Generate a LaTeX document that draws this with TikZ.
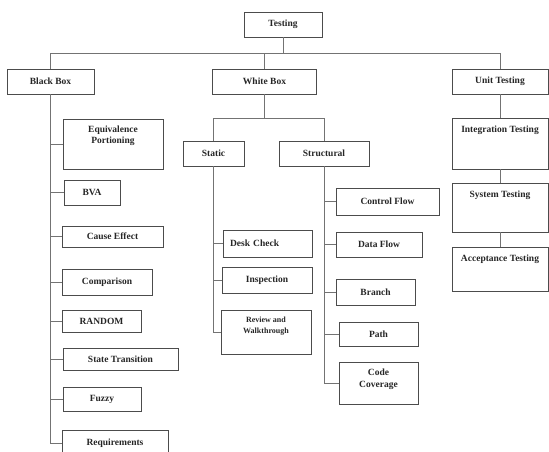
\documentclass[tikz,border=0pt]{standalone}
\usepackage{fontspec}
\setmainfont{Liberation Serif}
\begin{document}
\begin{tikzpicture}[x=1pt,y=-1pt,
  box/.style={draw=black!70, line width=0.7pt, rectangle, inner sep=1pt,
    font=\fontsize{9.5}{11}\selectfont\bfseries, text=black!85},
  txt/.style={inner sep=0pt, align=center, font=\fontsize{9.5}{11}\selectfont\bfseries, text=black!85},
  link/.style={draw=black!55, line width=0.7pt},
  topbox/.style={inner ysep=0pt, text height=14.5pt}
]
\useasboundingbox (0,0) rectangle (549,452);
\clip (0,0) rectangle (549,452);

% level 0 and 1
\node[box, minimum width=78, minimum height=25] (test) at (283,24.5) {Testing};
\node[box, minimum width=87, minimum height=25] (bb) at (50.5,81.5) {Black Box};
\node[box, minimum width=104, minimum height=25] (wb) at (264.5,81.5) {White Box};
\node[box, minimum width=96, minimum height=25] (ut) at (500,81.5) {Unit Testing};

\coordinate (hub) at (283,53);
\draw[link] (test.south) -- (hub);
\draw[link] (bb.north) |- (hub);
\draw[link] (hub) -| (ut.north);
\draw[link] (wb.north) -- (wb.north |- hub);

% black box children
\node[box, minimum width=100, minimum height=50] (eq) at (113,144) {};
\node[txt] (eqt) at (113,135.5) {Equivalence\\Portioning};
\node[box, minimum width=56, minimum height=25] (bva) at (92,192.5) {BVA};
\node[box, minimum width=101, minimum height=21] (ce) at (112.5,236.5) {Cause Effect};
\node[box, minimum width=90, minimum height=26] (cmp) at (107,282) {Comparison};
\node[box, minimum width=79, minimum height=22] (rnd) at (101.5,321) {RANDOM};
\node[box, minimum width=115, minimum height=22] (st) at (120.5,359) {State Transition};
\node[box, minimum width=78, minimum height=24] (fz) at (102,399) {Fuzzy};
\node[box, minimum width=106, minimum height=26] (req) at (115,443) {Requirements};

\foreach \c in {eq,bva,ce,cmp,rnd,st,fz,req}
  \draw[link] (bb.south) |- (\c.west);

% white box children
\node[box, minimum width=61, minimum height=25] (sta) at (213.5,153.5) {Static};
\node[box, minimum width=90, minimum height=25] (str) at (324,153.5) {Structural};
\coordinate (wbh) at (264.5,118);
\draw[link] (wb.south) -- (wbh);
\draw[link] (sta.north) |- (wbh);
\draw[link] (wbh) -| (str.north);

\node[box, text width=75pt, align=left, inner xsep=7pt, minimum height=27] (dc) at (267.5,243.5) {Desk Check};
\node[box, minimum width=90, minimum height=26] (ins) at (267,280) {Inspection};
\node[box, minimum width=90, minimum height=44] (rw) at (266,332) {};
\node[txt, font=\fontsize{8}{11}\selectfont\bfseries] (rwt) at (266,326.5) {Review and\\Walkthrough};
\foreach \c in {dc,ins,rw}
  \draw[link] (sta.south) |- (\c.west);

\node[box, minimum width=103, minimum height=27] (cf) at (387.5,201.5) {Control Flow};
\node[box, minimum width=86, minimum height=25] (df) at (379,244.5) {Data Flow};
\node[box, minimum width=79, minimum height=26] (br) at (375.5,292) {Branch};
\node[box, minimum width=79, minimum height=24] (pa) at (378.5,334.5) {Path};
\node[box, minimum width=79, minimum height=42] (cc) at (378.5,383) {};
\node[txt, font=\fontsize{9.5}{12}\selectfont\bfseries] (cct) at (378.5,379) {Code\\Coverage};
\foreach \c in {cf,df,br,pa,cc}
  \draw[link] (str.south) |- (\c.west);

% unit testing children
\node[box, topbox, minimum width=96, text depth=36.5pt] (it) at (500,143.5) {Integration Testing};
\node[box, topbox, minimum width=96, text depth=34.5pt] (syt) at (500,207.5) {System Testing};
\node[box, topbox, minimum width=96, text depth=30.5pt, text height=13.5pt] (at) at (500,269.5) {Acceptance Testing};
\draw[link] (ut.south) -- (ut.south |- it.north);
\draw[link] (it.south -| ut.south) -- (syt.north -| ut.south);
\draw[link] (syt.south -| ut.south) -- (at.north -| ut.south);
\end{tikzpicture}
\end{document}
